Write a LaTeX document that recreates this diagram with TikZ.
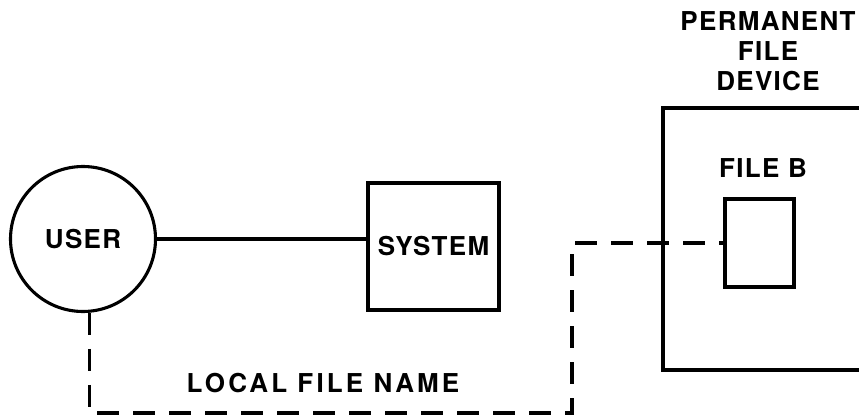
\documentclass[tikz,border=0pt]{standalone}
\usepackage{fontspec}
\setmainfont{TeX Gyre Heros}[LetterSpace=5]
\begin{document}
\begin{tikzpicture}[x=1pt,y=-1pt,line width=3.1pt,
  lbl/.style={font=\bfseries\fontsize{26}{30}\selectfont, inner sep=0pt},
  box/.style={draw, rectangle, inner sep=0pt},
  dsh/.style={line width=3.8pt, dash pattern=on 22pt off 14pt}]
\useasboundingbox (0,0) rectangle (859,417);
\clip (0,0) rectangle (859,417);
% user
\node[draw, circle, minimum size=145pt, lbl] (user) at (83,239) {USER};
% system
\node[box, minimum width=131pt, minimum height=127pt, lbl] (system) at (433.5,246.5) {SYSTEM};
% permanent file device
\node[box, minimum width=240pt, minimum height=262pt] (device) at (783,239) {};
\node[lbl, align=center] (devlabel) at (768,51) {PERMANENT\\FILE\\DEVICE};
\node[box, minimum width=69pt, minimum height=88pt] (fileb) at (759.5,243) {};
\node[lbl] (fileblabel) at (763,168) {FILE B};
% connectors
\draw (user.east) -- (system.west |- user.east);
\coordinate (c2) at (572,413);
\draw[dsh] (user.-85) |- (c2) |- (fileb.west);
\node[lbl, font=\bfseries\fontsize{26}{30}\selectfont\addfontfeature{LetterSpace=12}] (local) at (323,383) {LOCAL FILE NAME};
\end{tikzpicture}
\end{document}
